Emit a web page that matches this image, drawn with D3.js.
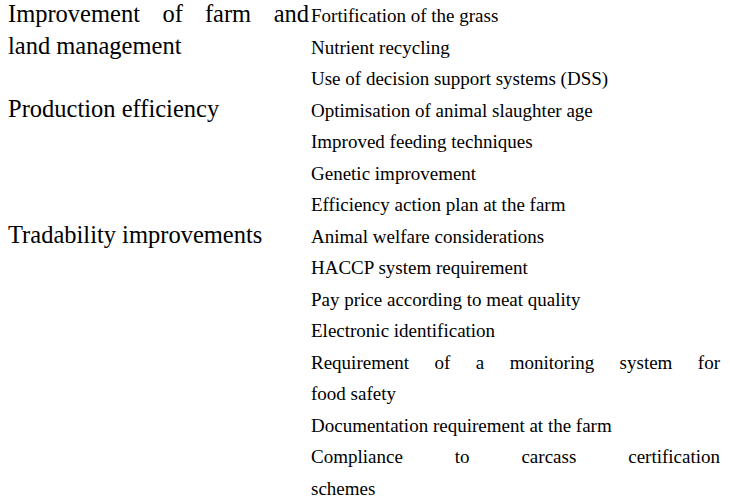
<!DOCTYPE html>
<html>
<head>
<meta charset="utf-8">
<script src="https://cdn.jsdelivr.net/npm/d3@7"></script>
<style>
    body { margin: 0; background: #fff; }
    svg { display: block; }
</style>
</head>
<body>
<svg width="730" height="503"></svg>
<script>
// strategy groups (left column), "\n" marks where the original cell wraps
var categories = [
    "Improvement of farm and\nland management",
    "Production efficiency",
    "Tradability improvements"
];

var farmMeasures = [
    "Fortification of the grass",
    "Nutrient recycling",
    "Use of decision support systems (DSS)"
];

var efficiencyMeasures = [
    "Optimisation of animal slaughter age",
    "Improved feeding techniques",
    "Genetic improvement",
    "Efficiency action plan at the farm"
];

var tradabilityMeasures = [
    "Animal welfare considerations",
    "HACCP system requirement",
    "Pay price according to meat quality",
    "Electronic identification",
    "Requirement of a monitoring system for\nfood safety",
    "Documentation requirement at the farm",
    "Compliance to carcass certification\nschemes"
];

var measures = [farmMeasures, efficiencyMeasures, tradabilityMeasures];

var svg = d3.select('svg');
var font = "Liberation Serif";

var left_x = 8, left_w = 301, left_size = 24.5;
var right_x = 311, right_w = 409, right_size = 19;

// flatten everything into lines, each knows its row
var rightLines = [];
var leftLines = [];
var row = 0;
categories.forEach(function (cat, g) {
    cat.split('\n').forEach(function (t, i, arr) {
        leftLines.push({text: t, row: row + i, justify: i < arr.length - 1});
    });
    measures[g].forEach(function (m) {
        m.split('\n').forEach(function (t, i, arr) {
            rightLines.push({text: t, row: row, justify: i < arr.length - 1});
            row++;
        });
    });
});

var y = d3.scaleLinear()
    .domain([0, row - 1])
    .range([22, 495]);

function drawColumn(lines, x0, width, size, cls) {
    var line = svg.selectAll('.' + cls)
        .data(lines)
        .enter()
        .append('text')
        .attr('class', cls)
        .attr('y', function (d) { return y(d.row); })
        .attr('font-family', font)
        .attr('font-size', size)
        .attr('fill', '#000');

    line.each(function (d) {
        var t = d3.select(this);
        if (!d.justify) {
            t.attr('x', x0).text(d.text);
            return;
        }
        // spread the words over the full cell width
        var words = d.text.split(' ');
        var spans = t.selectAll('tspan')
            .data(words)
            .enter()
            .append('tspan')
            .text(function (w) { return w; });
        var widths = [];
        spans.each(function () { widths.push(this.getComputedTextLength()); });
        var gap = (width - d3.sum(widths)) / (words.length - 1);
        var pos = x0;
        spans.attr('x', function (w, i) {
            var p = pos;
            pos += widths[i] + gap;
            return p;
        });
    });
}

drawColumn(leftLines, left_x, left_w, left_size, 'cat');
drawColumn(rightLines, right_x, right_w, right_size, 'measure');
</script>
</body>
</html>
